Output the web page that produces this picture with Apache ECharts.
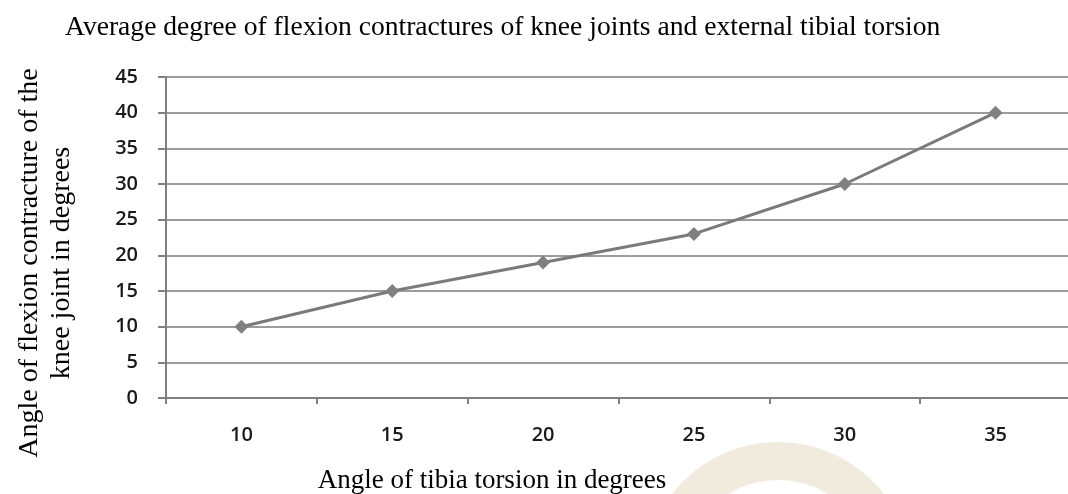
<!DOCTYPE html>
<html>
<head>
<meta charset="utf-8">
<script src="https://cdn.jsdelivr.net/npm/echarts@6/dist/echarts.min.js"></script>
<style>
  html, body { margin: 0; padding: 0; background: #fff; }
  #chart { width: 1068px; height: 494px; }
</style>
</head>
<body>
<div id="chart"></div>
<script>
// Tibial torsion angle (x) vs. knee flexion contracture angle (y)
const torsionAngles = ['10', '15', '20', '25', '30', '35'];
const contractureAngles = [10, 15, 19, 23, 30, 40];

const titleText = 'Average degree of flexion contractures of knee joints and external tibial torsion';
const xName = 'Angle of tibia torsion in degrees';
const yName = 'Angle of flexion contracture of the\nknee joint in degrees';

const serifStyle = {
  fontFamily: 'Liberation Serif',
  fontSize: 27,
  fill: '#000'
};

const chart = echarts.init(document.getElementById('chart'));

chart.setOption({
  animation: false,
  backgroundColor: '#ffffff',
  graphic: [
    {
      type: 'ring',
      z: -10,
      silent: true,
      shape: { cx: 778, cy: 576, r: 134, r0: 96 },
      style: { fill: '#f1ebde' }
    },
    {
      type: 'text',
      x: 65, y: 28,
      style: Object.assign({ text: titleText, align: 'left', verticalAlign: 'middle' }, serifStyle, { fontSize: 27.6 })
    },
    {
      type: 'text',
      x: 492, y: 481,
      style: Object.assign({ text: xName, align: 'center', verticalAlign: 'middle' }, serifStyle)
    },
    {
      type: 'text',
      x: 46, y: 263,
      rotation: Math.PI / 2,
      style: Object.assign({ text: yName, align: 'center', verticalAlign: 'middle', lineHeight: 32 }, serifStyle, { fontSize: 28 })
    }
  ],
  grid: { left: 166, top: 77, width: 905, height: 321, containLabel: false, outerBoundsMode: 'none' },
  xAxis: {
    type: 'category',
    data: torsionAngles,
    boundaryGap: true,
    axisLine: { lineStyle: { color: '#808080', width: 2 } },
    axisTick: { show: true, alignWithLabel: false, length: 6, lineStyle: { color: '#808080', width: 2 } },
    axisLabel: {
      margin: 27,
      fontFamily: 'Open Sans',
      fontWeight: 600,
      fontSize: 20,
      color: '#1a1a1a'
    },
    splitLine: { show: false }
  },
  yAxis: {
    type: 'value',
    min: 0,
    max: 45,
    interval: 5,
    axisLine: { show: true, lineStyle: { color: '#808080', width: 2 } },
    axisTick: { show: true, length: 8, lineStyle: { color: '#808080', width: 2 } },
    axisLabel: {
      margin: 28,
      fontFamily: 'Open Sans',
      fontWeight: 600,
      fontSize: 20,
      color: '#1a1a1a'
    },
    splitLine: { show: true, lineStyle: { color: '#9c9c9c', width: 2 } }
  },
  series: [
    {
      type: 'line',
      data: contractureAngles,
      symbol: 'diamond',
      symbolSize: 14,
      lineStyle: { color: '#7a7a7a', width: 3 },
      itemStyle: { color: '#808080' }
    }
  ]
});
</script>
</body>
</html>
